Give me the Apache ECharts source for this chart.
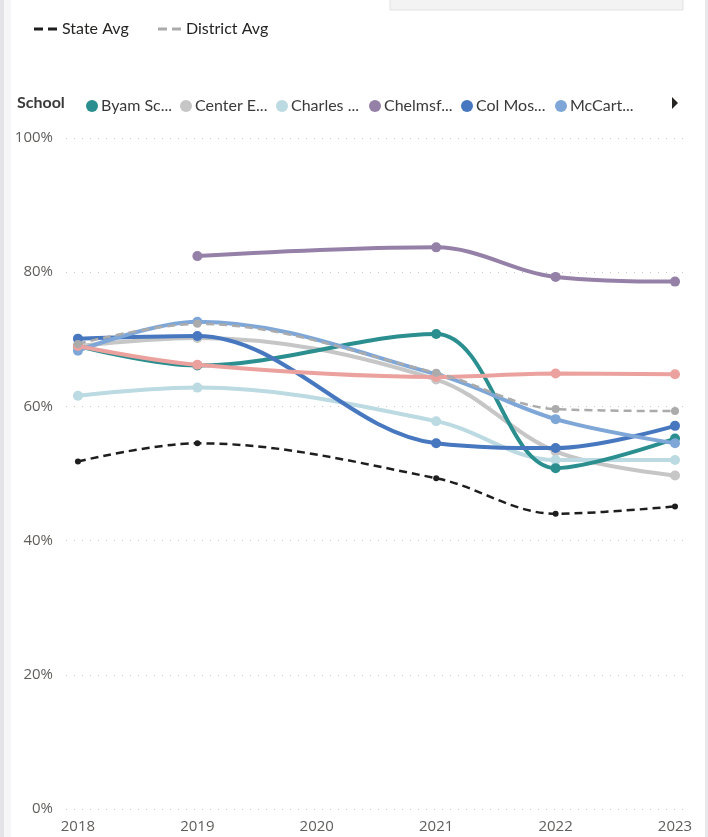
<!DOCTYPE html>
<html><head><meta charset="utf-8">
<script src="https://cdn.jsdelivr.net/npm/echarts@6/dist/echarts.min.js"></script>
<style>html,body{margin:0;padding:0;background:#fff}#c{width:708px;height:837px}</style>
</head><body><div id="c"></div>
<script>
const years = [2018, 2019, 2021, 2022, 2023];
const xTicks = [2018, 2019, 2020, 2021, 2022, 2023];
const stateAvg = [51.8, 54.5, 49.3, 44.0, 45.1];
const districtAvg = [69.3, 72.3, 65.0, 59.6, 59.3];
const byam = [69.0, 66.1, 70.8, 50.8, 55.2];
const center = [69.0, 70.2, 64.0, 53.3, 49.7];
const charles = [61.6, 62.8, 57.8, 52.0, 52.0];
const chelmsford = [null, 82.4, 83.7, 79.3, 78.6];
const colMos = [70.1, 70.5, 54.5, 53.8, 57.1];
const mcCart = [68.3, 72.6, 64.8, 58.1, 54.5];
const school7 = [69.0, 66.2, 64.4, 64.9, 64.8];
const schoolNames = ['Byam Sc...', 'Center E...', 'Charles ...', 'Chelmsf...', 'Col Mos...', 'McCart...'];

const FONT = '"Open Sans", sans-serif';
const LFONT = 'Lato, "Open Sans", sans-serif';
function pairs(vals) { return years.map((y, i) => [y, vals[i]]).filter(p => p[1] != null); }

const chart = echarts.init(document.getElementById('c'), null, {renderer: 'canvas'});

function schoolSeries(name, vals, color, z) {
  return {
    name, type: 'line', data: pairs(vals), smooth: 0.35, z,
    symbol: 'circle', symbolSize: 10, showSymbol: true,
    lineStyle: {color, width: 4}, itemStyle: {color},
    emphasis: {disabled: true}
  };
}
const colors = ['#2B8E8F', '#C6C6C6', '#BCDAE2', '#9580A8', '#4677BF', '#7EA7D8'];
const legendLefts = [81, 175, 271, 364, 456, 550];

const series = [
  schoolSeries(schoolNames[1], center, colors[1], 2),
  schoolSeries(schoolNames[2], charles, colors[2], 3),
  schoolSeries(schoolNames[0], byam, colors[0], 4),
  schoolSeries(schoolNames[3], chelmsford, colors[3], 5),
  schoolSeries(schoolNames[4], colMos, colors[4], 6),
  schoolSeries(schoolNames[5], mcCart, colors[5], 7),
  schoolSeries('School 7', school7, '#EBA29E', 8),
  {
    name: 'District Avg', type: 'line', data: pairs(districtAvg), smooth: 0.35, z: 9,
    symbol: 'circle', symbolSize: 8, lineStyle: {color: '#ABABAB', width: 2.5, type: [8, 5]},
    itemStyle: {color: '#ABABAB'}, emphasis: {disabled: true}
  },
  {
    name: 'State Avg', type: 'line', data: pairs(stateAvg), smooth: 0.35, z: 10,
    symbol: 'circle', symbolSize: 6, lineStyle: {color: '#1E1E1E', width: 2.5, type: [8, 5]},
    itemStyle: {color: '#1E1E1E'}, emphasis: {disabled: true}
  }
];

const dashIcon = 'path://M0,0h9v3h-9z M14,0h9v3h-9z';
const legends = [
  {data: ['State Avg'], left: 29, top: 16, icon: dashIcon, itemWidth: 23, itemHeight: 3, itemGap: 6,
   textStyle: {fontFamily: LFONT, fontSize: 16, color: '#252423'}, selectedMode: false},
  {data: ['District Avg'], left: 153, top: 16, icon: dashIcon, itemWidth: 23, itemHeight: 3,
   textStyle: {fontFamily: LFONT, fontSize: 16, color: '#252423'}, selectedMode: false}
];
schoolNames.forEach((n, i) => legends.push({
  data: [n], left: legendLefts[i], top: 93, icon: 'circle', itemWidth: 12, itemHeight: 12,
  textStyle: {fontFamily: LFONT, fontSize: 16, color: '#3a3a3a', padding: [0, 0, 0, -2]}, selectedMode: false
}));

chart.setOption({
  animation: false,
  backgroundColor: '#fff',
  grid: {left: 66, right: 22, top: 138, bottom: 28, containLabel: false},
  legend: legends,
  xAxis: {
    type: 'value', min: 2017.9, max: 2023.092,
    axisLine: {show: false}, axisTick: {show: false}, splitLine: {show: false},
    axisLabel: {customValues: xTicks, formatter: v => String(v), fontFamily: FONT, fontSize: 15, color: '#605E5C', margin: 10}
  },
  yAxis: {
    type: 'value', min: 0, max: 100, interval: 20,
    axisLine: {show: false}, axisTick: {show: false},
    axisLabel: {formatter: '{value}%', fontFamily: FONT, fontSize: 15, color: '#605E5C', margin: 13},
    splitLine: {lineStyle: {color: '#C8C8C8', type: [1, 7], width: 1}}
  },
  series,
  graphic: [
    {type: 'rect', shape: {x: 0, y: 0, width: 4, height: 837}, style: {fill: '#E4E4E8'}, silent: true},
    {type: 'rect', shape: {x: 4, y: 0, width: 7, height: 837}, style: {fill: '#F6F6F8'}, silent: true},
    {type: 'rect', shape: {x: 705, y: 0, width: 3, height: 837}, style: {fill: '#E8E8EC'}, silent: true},
    {type: 'rect', shape: {x: 390, y: -2, width: 293, height: 12}, style: {fill: '#F3F3F3', stroke: '#E2E2E2', lineWidth: 1}, silent: true},
    {type: 'text', left: 17, top: 95, style: {text: 'School', font: 'bold 16px ' + LFONT, fill: '#3a3a3a'}, silent: true},
    {type: 'polygon', shape: {points: [[672, 97], [678, 103], [672, 109]]}, style: {fill: '#252423'}, silent: true}
  ]
});
</script></body></html>
